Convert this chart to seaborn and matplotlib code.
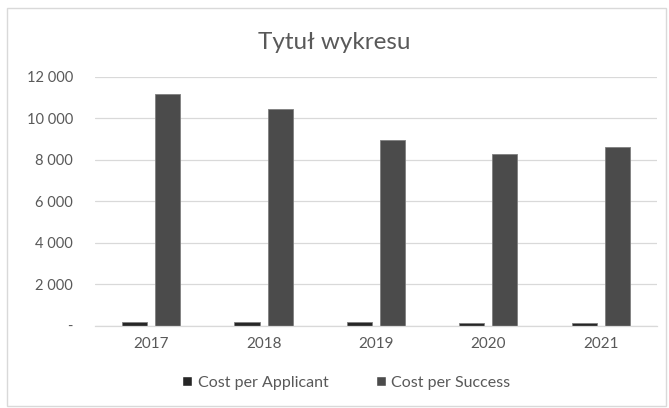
import matplotlib
matplotlib.use("Agg")
import matplotlib.pyplot as plt
import matplotlib.ticker as mticker
from matplotlib.patches import Rectangle
import pandas as pd
import seaborn as sns

sns.set_theme(style="white")
plt.rcParams["font.family"] = ["Lato", "DejaVu Sans"]

years = ["2017", "2018", "2019", "2020", "2021"]
cost_per_applicant = [165, 165, 160, 115, 115]
cost_per_success = [11150, 10450, 8930, 8290, 8610]
series_names = ["Cost per Applicant", "Cost per Success"]
y_ticks = [0, 2000, 4000, 6000, 8000, 10000, 12000]

text_color = "#595959"
grid_color = "#d9d9d9"
bar_colors = ["#262626", "#4b4b4b"]

df = pd.DataFrame({
    "Year": years * 2,
    "Value": cost_per_applicant + cost_per_success,
    "Series": [series_names[0]] * len(years) + [series_names[1]] * len(years),
})

fig = plt.figure(figsize=(6.69, 4.08), dpi=100)
ax = fig.add_axes([0.142, 0.2017, 0.840, 0.6103])

sns.barplot(data=df, x="Year", y="Value", hue="Series", palette=bar_colors,
            width=0.59, gap=0.245, ax=ax, legend=False, errorbar=None,
            edgecolor="#7f7f7f", linewidth=0.6)

ax.set_ylim(0, 12000)
ax.set_yticks(y_ticks)
ax.yaxis.set_major_formatter(mticker.FuncFormatter(
    lambda v, p: "-" if v == 0 else f"{int(v):,}".replace(",", " ")))
ax.grid(axis="y", color=grid_color, linewidth=0.9)
ax.set_axisbelow(True)
for side in ["top", "right", "left"]:
    ax.spines[side].set_visible(False)
ax.spines["bottom"].set_color(grid_color)
ax.spines["bottom"].set_linewidth(0.9)
ax.tick_params(axis="y", length=0, pad=16, labelsize=10.5, labelcolor=text_color)
ax.tick_params(axis="x", length=0, pad=8, labelsize=11, labelcolor=text_color)
ax.set_xlabel("")
ax.set_ylabel("")

fig.text(0.5, 0.897, "Tytuł wykresu", ha="center", va="center",
         fontsize=17.5, color=text_color)

handles = [Rectangle((0, 0), 1, 1, facecolor=c) for c in bar_colors]
fig.legend(handles, series_names, loc="center", bbox_to_anchor=(0.518, 0.062),
           ncol=2, frameon=False, fontsize=11.5, labelcolor=text_color,
           handlelength=0.6, handleheight=0.6, handletextpad=0.35,
           columnspacing=3.0)

fig.patches.append(Rectangle((0.0105, 0.005), 0.985, 0.975,
                             transform=fig.transFigure, fill=False,
                             edgecolor="#d9d9d9", linewidth=1))

fig.savefig("out.png", dpi=100)
